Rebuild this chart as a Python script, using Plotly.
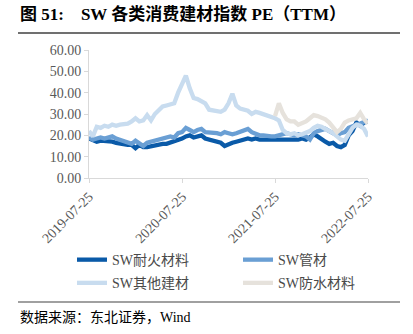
import plotly.graph_objects as go
import pandas as pd

# ---- data ----
n_points = 73  # half-month sampling grid
dates = pd.date_range(start="2019-07-25", end="2022-07-25", periods=n_points)

naihuo = [18.5, 17.5, 17, 17.5, 17.5, 17.5, 17, 16.5, 16, 15.5, 15.5, 15.5, 14, 15.5, 14.5, 14.5,
          15, 15, 15.5, 16, 16, 16.5, 17, 17.5, 18.5, 19.5, 20, 19, 19.5, 20, 18.5, 18, 17.5, 17,
          16.5, 15, 16, 16.5, 17, 17.5, 18, 18.5, 18, 18.5, 18, 18, 18, 18, 18, 17.5, 18, 18, 17.5,
          18, 18, 18.5, 18, 19, 20.5, 19.5, 18, 17, 16, 16.5, 15, 14.5, 15.5, 20, 22, 26, 24.5, 26, 26.5]
guancai = [19, 18, 18.5, 19, 18.5, 19, 19.5, 18.5, 18, 17, 16.5, 16, 17.5, 16, 15, 16.5, 17, 18,
           18.5, 18.5, 19, 19.5, 19, 21, 21.5, 23.5, 22.5, 21.5, 22.5, 23, 21.5, 21.5, 21.5, 21,
           20.5, 21.5, 21, 20.5, 21, 21.5, 22.5, 23, 21.5, 20.5, 20, 20, 19.5, 19.5, 19.5, 20, 20.5,
           21, 20.5, 20, 20.5, 20, 19.5, 18, 21, 22, 22.5, 23, 22, 21, 20, 21, 21.5, 23.5, 24.5, 25,
           25.5, 26, 27]
qita = [22, 19.5, 24, 23.5, 24.5, 24, 25, 24.5, 25, 25, 25.5, 26.5, 28, 26.5, 27, 29.5, 27, 30, 32,
        33.5, 34, 34.5, 35, 40, 44, 48, 42, 37.5, 37, 36, 35, 32, 31.5, 31.5, 31, 32, 35, 39.5, 34,
        32.5, 32, 31.5, 30, 31, 30.5, 30, 29, 28.5, 28, 27, 22.5, 21, 20.5, 21, 20, 20.5, 21, 22,
        23.5, 24.5, 24, 23, 22.5, 21, 19.5, 18, 17.5, 21, 23.5, 25, 24.5, 23, 19.5]
fangshui = [None] * 48 + [29, 35, 30.5, 27.5, 26.5, 26.5, 25, 25.5, 26.5, 28, 29.5, 29, 28.5, 27.5,
                          26, 24, 21.5, 23, 26, 27, 27.5, 28, 30.5, 27.5, 25.5]

series_names = ["SW耐火材料", "SW管材", "SW其他建材", "SW防水材料"]
series_values = [naihuo, guancai, qita, fangshui]
series_colors = ["#0a5aa8", "#6a9fd4", "#c8dcef", "#e6e2dc"]
series_legend = ["legend", "legend2", "legend", "legend2"]

tick_dates = ["2019-07-25", "2020-07-25", "2021-07-25", "2022-07-25"]
y_ticks = [0, 10, 20, 30, 40, 50, 60]
y_ticktext = ["%.2f" % v for v in y_ticks]

title_text = "<b>图 51:    SW 各类消费建材指数 PE（TTM）</b>"
source_text = "数据来源：东北证券，Wind"

# ---- figure ----
serif = "Liberation Serif, Noto Sans CJK SC, serif"
fig = go.Figure()
for name, vals, col, lg in zip(series_names, series_values, series_colors, series_legend):
    fig.add_trace(go.Scatter(x=dates, y=vals, name=name, mode="lines", legend=lg,
                             legendgroup=name,
                             line=dict(color=col, width=4.3), connectgaps=False))

legend_common = dict(orientation="v", yanchor="top", xanchor="left", tracegroupgap=2,
                     font=dict(family=serif, size=14, color="#4a4a4a"),
                     bgcolor="rgba(0,0,0,0)", itemwidth=30)

fig.update_layout(
    width=413, height=334,
    margin=dict(l=89, r=45, t=50, b=156),
    paper_bgcolor="white", plot_bgcolor="white",
    font=dict(family=serif, size=14, color="#595959"),
    showlegend=True,
    legend=dict(x=-0.061, y=-0.516, **legend_common),
    legend2=dict(x=0.534, y=-0.516, **legend_common),
    xaxis=dict(type="date", range=[tick_dates[0], tick_dates[-1]],
               tickvals=tick_dates, ticktext=tick_dates, tickangle=-45,
               showgrid=False, zeroline=False, showline=True, linecolor="#d9d9d9", linewidth=1,
               ticks="outside", ticklen=4, tickcolor="#d9d9d9",
               tickfont=dict(family=serif, size=14, color="#595959")),
    yaxis=dict(range=[0, 60], tickvals=y_ticks, ticktext=y_ticktext,
               showgrid=False, zeroline=False, showline=True, linecolor="#d9d9d9", linewidth=1,
               ticks="outside", ticklen=4, tickcolor="#d9d9d9",
               tickfont=dict(family=serif, size=14, color="#595959")),
)

fig.add_annotation(text=title_text, xref="paper", yref="paper", x=-0.2545, y=1.28,
                   xanchor="left", yanchor="middle", showarrow=False,
                   font=dict(family=serif, size=17, color="black"))
fig.add_annotation(text=source_text, xref="paper", yref="paper", x=-0.2545, y=-1.086,
                   xanchor="left", yanchor="middle", showarrow=False,
                   font=dict(family=serif, size=14, color="black"))
fig.add_shape(type="line", xref="paper", yref="paper", x0=-0.2545, x1=1.1147, y0=1.1328, y1=1.1328,
              line=dict(color="#404040", width=1.5))
fig.add_shape(type="line", xref="paper", yref="paper", x0=-0.2545, x1=1.1147, y0=-0.96875, y1=-0.96875,
              line=dict(color="#808080", width=1.5))

fig.write_html("out.html")
